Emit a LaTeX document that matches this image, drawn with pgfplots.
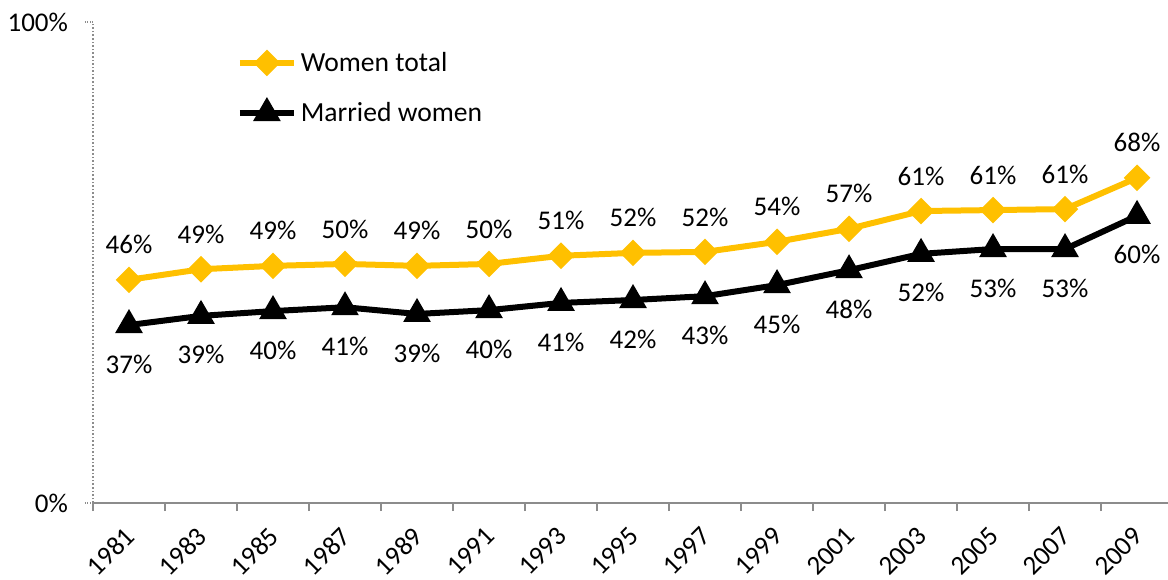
\documentclass[border=0pt]{standalone}
\usepackage{pgfplots}
\pgfplotsset{compat=1.18}
\usepackage{pgfplotstable}
\usepackage{fontspec}
\setmainfont{Carlito}
\definecolor{gold}{HTML}{FFC000}
\definecolor{axgray}{HTML}{8C8C8C}

\pgfplotstableread{
x y lab
0 46.4 46
1 48.6 49
2 49.3 49
3 49.7 50
4 49.3 49
5 49.7 50
6 51.4 51
7 52.0 52
8 52.2 52
9 54.3 54
10 57.0 57
11 60.7 61
12 60.9 61
13 61.1 61
14 67.6 68
}\womentotal

\pgfplotstableread{
x y lab
0 37.0 37
1 38.9 39
2 39.9 40
3 40.7 41
4 39.3 39
5 40.1 40
6 41.6 41
7 42.2 42
8 43.0 43
9 45.3 45
10 48.4 48
11 51.8 52
12 52.8 53
13 52.8 53
14 59.7 60
}\married

\begin{document}
\begin{tikzpicture}[font=\fontsize{13.5bp}{16bp}\selectfont]
\begin{axis}[
  at={(0,0)}, anchor=south west,
  scale only axis,
  width=537.5bp, height=240.5bp,
  xmin=-0.5, xmax=14.43,
  ymin=0, ymax=100,
  /pgf/number format/assume math mode=true,
  axis x line*=bottom, axis y line*=left,
  axis line style={-},
  x axis line style={draw=axgray, line width=0.9bp},
  y axis line style={draw=axgray, densely dotted, line width=0.8bp},
  xtick={0,...,14},
  xticklabels={1981,1983,1985,1987,1989,1991,1993,1995,1997,1999,2001,2003,2005,2007,2009},
  major x tick style={draw=none},
  minor xtick={-0.5,0.5,...,13.5},
  minor x tick style={draw=axgray, line width=0.9bp},
  minor tick length=4bp,
  tick align=outside,
  ytick={0,100},
  yticklabels={0\%,100\%},
  major tick length=4bp,
  y tick style={draw=axgray, densely dotted, line width=0.8bp},
  yticklabel style={font=\fontsize{13.5bp}{16bp}\selectfont, xshift=-5bp},
  xticklabel style={font=\fontsize{13.5bp}{16bp}\selectfont, xshift=3bp, yshift=-8bp, rotate=45, anchor=east},
  clip=false,
  legend style={at={(0.1335,0.947)}, anchor=north west, draw=none, fill=none,
    font=\fontsize{13.8bp}{16bp}\selectfont, row sep=10bp, inner sep=0pt,
    /tikz/every even column/.append style={column sep=0pt}},
  legend cell align=left,
  legend image code/.code={\draw[mark repeat=2,mark phase=2] plot coordinates {(0bp,0bp)(13.5bp,0bp)(27bp,0bp)};},
  nodes near coords={\pgfmathprintnumber[fixed,precision=0]{\pgfplotspointmeta}\%},
  point meta=explicit,
]
\addplot[gold, line width=3bp, mark=square*, mark size=3.2bp, mark options={rotate=45, solid},
  every node near coord/.style={anchor=center, yshift=17.5bp, text=black, font=\fontsize{13.5bp}{16bp}\selectfont}]
  table[x=x, y=y, meta=lab] {\womentotal};
\addlegendentry{Women total}
\addplot[black, line width=3bp, mark=triangle*, mark size=5bp, mark options={solid},
  every node near coord/.style={anchor=center, yshift=-19.5bp, text=black, font=\fontsize{13.5bp}{16bp}\selectfont}]
  table[x=x, y=y, meta=lab] {\married};
\addlegendentry{Married women}
\end{axis}
\pgfresetboundingbox
\path[use as bounding box] (-46.5bp,-38.5bp) rectangle (537.5bp,251.5bp);
\end{tikzpicture}
\end{document}
